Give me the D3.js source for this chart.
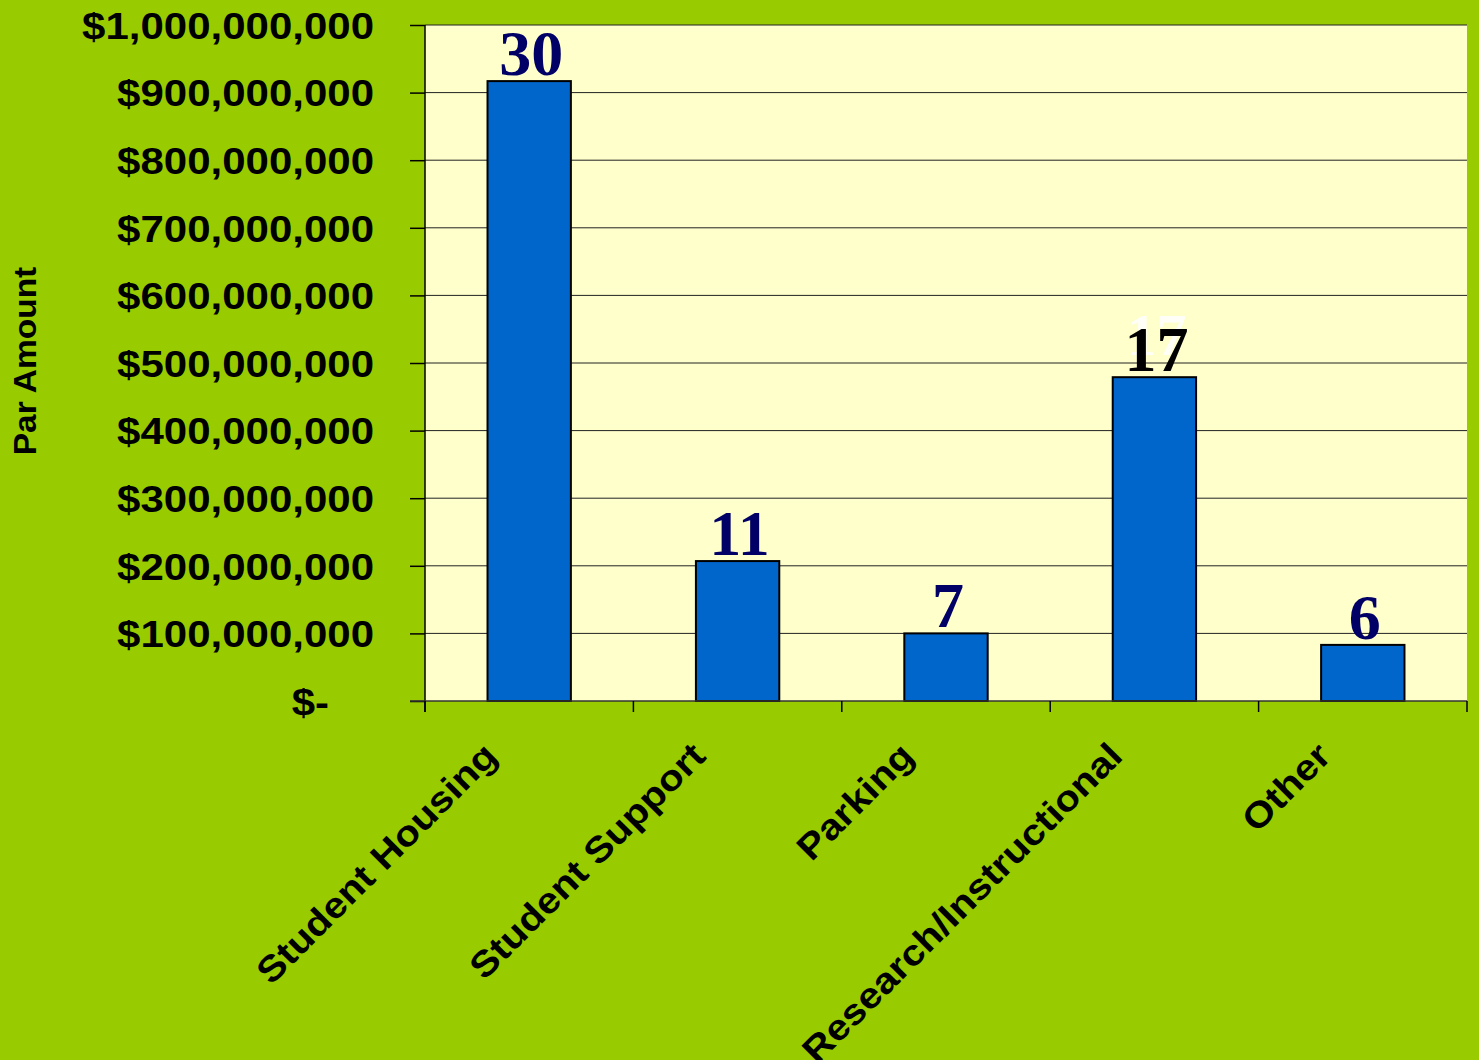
<!DOCTYPE html>
<html>
<head>
<meta charset="utf-8">
<script src="https://cdn.jsdelivr.net/npm/d3@7"></script>
<style>
  html, body { margin: 0; padding: 0; background: #99CC00; }
  svg { display: block; }
</style>
</head>
<body>
<svg id="chart" width="1479" height="1060"></svg>
<script>
// chart data
const categories = ["Student Housing", "Student Support", "Parking", "Research/Instructional", "Other"];
const parAmounts = [917000000, 207000000, 100000000, 479000000, 83000000];
const issueCounts = ["30", "11", "7", "17", "6"];
const yTicks = [0, 100000000, 200000000, 300000000, 400000000, 500000000,
                600000000, 700000000, 800000000, 900000000, 1000000000];

const W = 1479, H = 1060;
const plot = { left: 425, right: 1467, top: 25, bottom: 701 };

const svg = d3.select("#chart");

// stretch text a bit horizontally, like the original
function stretch(sel, k) {
  sel.each(function () {
    const len = this.getComputedTextLength();
    d3.select(this).attr("textLength", len * k).attr("lengthAdjust", "spacingAndGlyphs");
  });
}

svg.append("rect").attr("width", W).attr("height", H).attr("fill", "#99CC00");

const x = d3.scaleBand()
  .domain(categories)
  .range([plot.left, plot.right])
  .paddingInner(0.6)
  .paddingOuter(0.3);

const y = d3.scaleLinear()
  .domain([0, 1000000000])
  .range([plot.bottom, plot.top]);

// plot background
svg.append("rect")
  .attr("x", plot.left).attr("y", plot.top)
  .attr("width", plot.right - plot.left).attr("height", plot.bottom - plot.top)
  .attr("fill", "#FFFFCC");

// gridlines
svg.append("g")
  .selectAll("line")
  .data(yTicks.filter(d => d > 0))
  .enter().append("line")
  .attr("x1", plot.left).attr("x2", plot.right)
  .attr("y1", d => y(d)).attr("y2", d => y(d))
  .attr("stroke", "#222").attr("stroke-width", 1);

// bars
svg.append("g")
  .selectAll("rect")
  .data(categories)
  .enter().append("rect")
  .attr("x", d => x(d))
  .attr("y", (d, i) => y(parAmounts[i]))
  .attr("width", x.bandwidth())
  .attr("height", (d, i) => y(0) - y(parAmounts[i]))
  .attr("fill", "#0066CC")
  .attr("stroke", "#000")
  .attr("stroke-width", 2);

// y axis
const yAxis = d3.axisLeft(y)
  .tickValues(yTicks)
  .tickSize(15)
  .tickPadding(36)
  .tickFormat(d => d === 0 ? "$-" : "$" + d3.format(",")(d));

const gy = svg.append("g")
  .attr("transform", `translate(${plot.left},0)`)
  .call(yAxis);
gy.select(".domain").remove();
gy.selectAll(".tick line").attr("stroke", "#000").attr("stroke-width", 1.5);
gy.append("line")
  .attr("x1", 0).attr("x2", 0)
  .attr("y1", plot.top).attr("y2", plot.bottom + 11)
  .attr("stroke", "#000").attr("stroke-width", 1.5);
gy.selectAll(".tick text")
  .attr("font-family", "Liberation Sans, Arial, sans-serif")
  .attr("font-weight", "bold")
  .attr("font-size", 37)
  .attr("fill", "#000")
  .attr("dy", "0.36em")
  .attr("x", d => d === 0 ? -96 : -51)
  .call(stretch, 1.135);

// x axis line and ticks at category boundaries
svg.append("line")
  .attr("x1", plot.left - 15).attr("x2", plot.right)
  .attr("y1", plot.bottom).attr("y2", plot.bottom)
  .attr("stroke", "#333").attr("stroke-width", 1.5);

const bounds = d3.range(categories.length + 1).map(i => plot.left + i * x.step());
svg.append("g")
  .selectAll("line")
  .data(bounds)
  .enter().append("line")
  .attr("x1", d => d).attr("x2", d => d)
  .attr("y1", plot.bottom).attr("y2", plot.bottom + 11)
  .attr("stroke", "#000").attr("stroke-width", 1.5);

// category labels
svg.append("g")
  .selectAll("text")
  .data(categories)
  .enter().append("text")
  .attr("transform", d => `translate(${x(d) + x.bandwidth() / 2 - 30},${plot.bottom + 57}) rotate(-45)`)
  .attr("text-anchor", "end")
  .attr("font-family", "Liberation Sans, Arial, sans-serif")
  .attr("font-weight", "bold")
  .attr("font-size", 36)
  .attr("fill", "#000")
  .text(d => d)
  .call(stretch, 1.12);

// count labels above bars
const lbl = svg.append("g");
lbl.append("text")   // faint duplicate behind the 17
  .attr("x", x("Research/Instructional") + x.bandwidth() / 2 + 2)
  .attr("y", y(parAmounts[3]) - 22)
  .attr("text-anchor", "middle")
  .attr("font-family", "Liberation Serif, Times New Roman, serif")
  .attr("font-weight", "bold")
  .attr("font-size", 60)
  .attr("fill", "#fff")
  .attr("opacity", 0.85)
  .text(issueCounts[3]);

lbl.selectAll("text.cnt")
  .data(categories)
  .enter().append("text")
  .attr("class", "cnt")
  .attr("x", d => x(d) + x.bandwidth() / 2 + 2)
  .attr("y", (d, i) => y(parAmounts[i]) - 6)
  .attr("text-anchor", "middle")
  .attr("font-family", "Liberation Serif, Times New Roman, serif")
  .attr("font-weight", "bold")
  .attr("font-size", 64)
  .attr("fill", (d, i) => i === 3 ? "#000" : "#000066")
  .text((d, i) => issueCounts[i]);

// y axis title
svg.append("text")
  .attr("transform", "translate(36,361) rotate(-90)")
  .attr("text-anchor", "middle")
  .attr("font-family", "Liberation Sans, Arial, sans-serif")
  .attr("font-weight", "bold")
  .attr("font-size", 31)
  .attr("fill", "#000")
  .text("Par Amount")
  .call(stretch, 1.08);
</script>
</body>
</html>
